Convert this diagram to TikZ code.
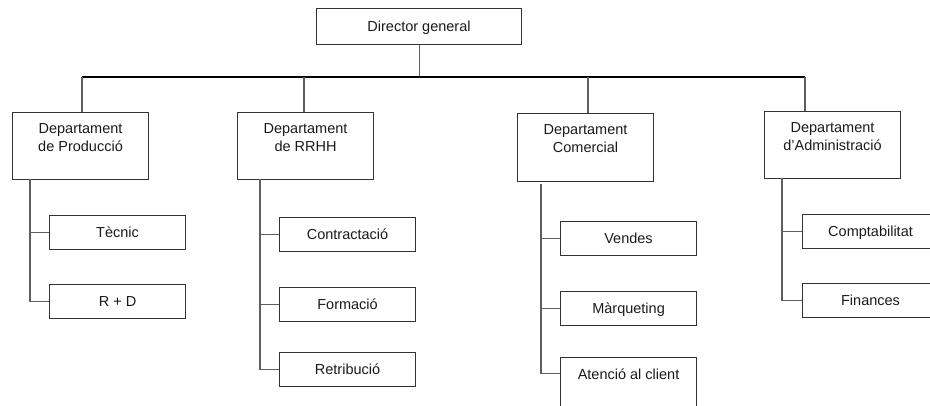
\documentclass[tikz,border=0pt]{standalone}
\usepackage{fontspec}
\setmainfont{Liberation Sans}
\definecolor{boxline}{HTML}{333333}
\definecolor{connline}{HTML}{5E5E5E}
\definecolor{inktext}{HTML}{1A1A1A}
% parbox with the text hung from the top of the box
\newcommand\hungtext[3]{\parbox[c][#1][t]{136pt}{\centering\rule{0pt}{#2}#3}}
\begin{document}
\begin{tikzpicture}[x=1pt,y=-1pt,
  base/.style={draw=boxline, line width=1.1pt, inner sep=0pt, anchor=north west,
    font=\fontsize{14.5}{18}\selectfont, text=inktext},
  topbox/.style={base, minimum width=205pt, minimum height=36pt,
    text height=13pt, text depth=3pt},
  deptbox/.style={base, minimum width=136pt, minimum height=67pt},
  unitbox/.style={base, minimum width=136pt, minimum height=33.5pt,
    text height=13pt, text depth=3pt},
  conn/.style={draw=connline, line width=1.1pt},
  bar/.style={draw=black, line width=1.1pt}]
\useasboundingbox (0,0) rectangle (930,405);
\clip (0,0) rectangle (930,405);

% head
\node[topbox] (dir) at (316,8) {Director general};

% departments
\node[deptbox] (prod) at (12,112)  {\hungtext{67pt}{21pt}{Departament\\de Producció}};
\node[deptbox] (rrhh) at (237,112) {\hungtext{67pt}{21pt}{Departament\\de RRHH}};
\node[deptbox, minimum height=68pt] (com) at (517,113) {\hungtext{68pt}{21pt}{Departament\\Comercial}};
\node[deptbox] (adm) at (764,111)  {\hungtext{67pt}{21pt}{Departament\\d’Administració}};

% units
\node[unitbox] (tec) at (49,215)  {Tècnic};
\node[unitbox] (rd)  at (49,284)  {R + D};
\node[unitbox] (con) at (279,217) {Contractació};
\node[unitbox] (for) at (279,287) {Formació};
\node[unitbox] (ret) at (279,352) {Retribució};
\node[unitbox] (ven) at (560,221) {Vendes};
\node[unitbox] (mar) at (560,291) {Màrqueting};
\node[deptbox, minimum width=135pt] (ate) at (560,357) {\hungtext{67pt}{22pt}{Atenció al client}};
\node[unitbox] (cmp) at (802,214) {Comptabilitat};
\node[unitbox] (fin) at (802,283) {Finances};

% top bar and drops
\coordinate (barL) at (82,77);
\coordinate (barR) at (805,77);
\coordinate (dropB) at (304,77);
\coordinate (dropC) at (588,77);
\draw[conn] (dir.south) -- (dir.south |- barL);
\draw[bar] (barL) -- (barR);
\draw[conn] (barL) -- (barL |- prod.north);
\draw[conn] (dropB) -- (dropB |- rrhh.north);
\draw[conn] (dropC) -- (dropC |- com.north);
\draw[conn] (barR) -- (barR |- adm.north);

% spines
\coordinate (spA) at (30,179);
\coordinate (spB) at (260,179);
\coordinate (spC) at (541,184);
\coordinate (spD) at (782,178);
\draw[conn] (spA) |- (rd.west);
\draw[conn] (spA |- tec.west) -- (tec.west);
\draw[conn] (spB) |- (ret.west);
\draw[conn] (spB |- con.west) -- (con.west);
\draw[conn] (spB |- for.west) -- (for.west);
\draw[conn] (spC) |- ([yshift=-16.5pt]ate.north west);
\draw[conn] (spC |- ven.west) -- (ven.west);
\draw[conn] (spC |- mar.west) -- (mar.west);
\draw[conn] (spD) |- (fin.west);
\draw[conn] (spD |- cmp.west) -- (cmp.west);
\end{tikzpicture}
\end{document}
